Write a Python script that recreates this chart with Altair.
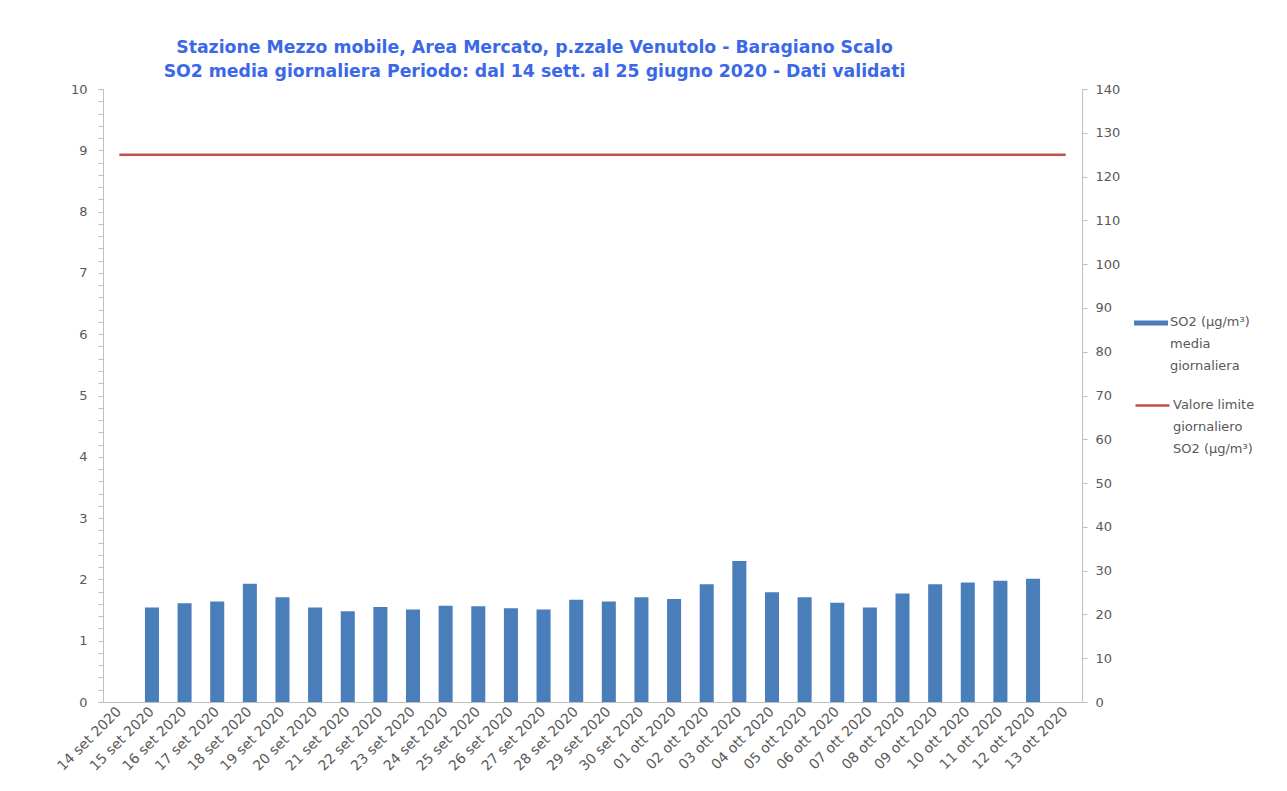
import altair as alt
import pandas as pd

dates = [
    "14 set 2020", "15 set 2020", "16 set 2020", "17 set 2020", "18 set 2020",
    "19 set 2020", "20 set 2020", "21 set 2020", "22 set 2020", "23 set 2020",
    "24 set 2020", "25 set 2020", "26 set 2020", "27 set 2020", "28 set 2020",
    "29 set 2020", "30 set 2020", "01 ott 2020", "02 ott 2020", "03 ott 2020",
    "04 ott 2020", "05 ott 2020", "06 ott 2020", "07 ott 2020", "08 ott 2020",
    "09 ott 2020", "10 ott 2020", "11 ott 2020", "12 ott 2020", "13 ott 2020",
]
so2 = [
    None, 1.54, 1.61, 1.64, 1.93, 1.71, 1.54, 1.48, 1.55, 1.51,
    1.57, 1.56, 1.53, 1.51, 1.67, 1.64, 1.71, 1.68, 1.92, 2.30,
    1.79, 1.71, 1.62, 1.54, 1.77, 1.92, 1.95, 1.98, 2.01, None,
]
limit = [125] * len(dates)

bar_name = "SO2 media"
line_name = "Valore limite"

df = pd.DataFrame({"data": dates, "so2": so2, "limite": limit,
                   "s1": bar_name, "s2": line_name})

title_lines = [
    "Stazione Mezzo mobile, Area Mercato, p.zzale Venutolo - Baragiano Scalo",
    "SO2  media giornaliera Periodo: dal 14 sett. al 25 giugno 2020 - Dati validati",
]

FONT = "DejaVu Sans"
GRAY = "#595959"
AXIS = "#BFBFBF"

x = alt.X("data:N", sort=None,
          scale=alt.Scale(domain=dates, paddingInner=0.57, paddingOuter=0.285),
          axis=alt.Axis(title=None, labelAngle=-45, labelAlign="right",
                        labelBaseline="middle", ticks=False, domainColor=AXIS,
                        labelColor=GRAY, labelFont=FONT, labelFontSize=14,
                        labelPadding=7, labelOverlap=False))

left_vals = [round(i * 0.2, 1) for i in range(51)]

bars = alt.Chart(df).mark_bar(color="#4A7EBB").encode(
    x=x,
    y=alt.Y("so2:Q", scale=alt.Scale(domain=[0, 10], nice=False),
            axis=alt.Axis(title=None, values=left_vals, grid=False,
                          labelExpr="abs(datum.value - round(datum.value)) < 0.01 ? format(datum.value, 'd') : ''",
                          tickSize=5, tickColor=AXIS, domainColor=AXIS,
                          labelColor=GRAY, labelFont=FONT, labelFontSize=13,
                          labelPadding=11)),
    fill=alt.Fill("s1:N", scale=alt.Scale(domain=[bar_name], range=["#4A7EBB"]),
                  legend=alt.Legend(title=None, orient="none", legendX=1031, legendY=220,
                                    symbolType="M-1,-0.33H1V-0.03H-1Z", symbolSize=1156,
                                    symbolStrokeWidth=0,
                                    labelExpr="['SO2 (µg/m³)', 'media', 'giornaliera']",
                                    labelFont=FONT, labelFontSize=13, labelColor=GRAY,
                                    labelBaseline="alphabetic", labelOffset=2)),
)

line = alt.Chart(df).mark_line(color="#C0504D", strokeWidth=2.5).encode(
    x=x,
    y=alt.Y("limite:Q", scale=alt.Scale(domain=[0, 140], nice=False),
            axis=alt.Axis(title=None, orient="right", values=list(range(0, 141, 10)),
                          grid=False, tickSize=5, tickColor=AXIS, domainColor=AXIS,
                          labelColor=GRAY, labelFont=FONT, labelFontSize=13,
                          labelPadding=8)),
    stroke=alt.Stroke("s2:N", scale=alt.Scale(domain=[line_name], range=["#C0504D"]),
                      legend=alt.Legend(title=None, orient="none", legendX=1031, legendY=301,
                                        symbolType="M-1,-0.17H1", symbolSize=1156,
                                        symbolStrokeWidth=2.5,
                                        labelExpr="['Valore limite', 'giornaliero', 'SO2 (µg/m³)']",
                                        labelFont=FONT, labelFontSize=13, labelColor=GRAY,
                                        labelBaseline="alphabetic", labelOffset=2)),
)

chart = alt.layer(bars, line).resolve_scale(
    y="independent", fill="independent", stroke="independent"
).properties(
    width=979, height=613,
    autosize=alt.AutoSizeParams(type="none"),
    padding={"left": 95, "top": 81, "right": 197, "bottom": 80},
    title=alt.TitleParams(text=title_lines, font=FONT, fontSize=17.3, fontWeight="bold",
                          color="#3A68E8", anchor="middle", dx=-58, offset=3,
                          lineHeight=24),
    background="white",
)

chart = chart.configure(style={"guide-label": {"lineHeight": 22}}).configure_view(stroke=None)

chart.save("out.html", embed_options={"renderer": "svg", "actions": False})
